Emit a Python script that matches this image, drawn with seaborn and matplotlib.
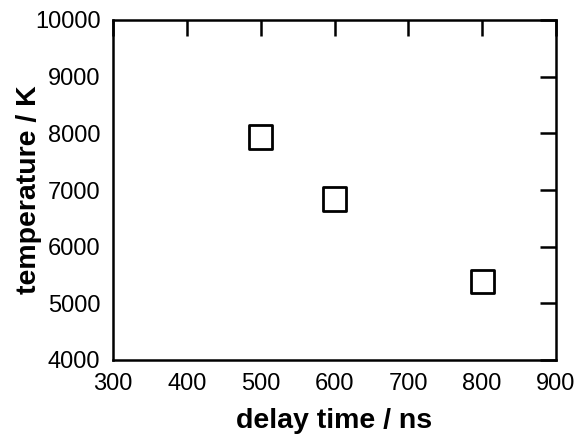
import matplotlib
matplotlib.use('Agg')
import matplotlib.pyplot as plt
import seaborn as sns
import pandas as pd

# Daten
delay_time = [500, 600, 800]
temperature = [7935, 6840, 5380]

df = pd.DataFrame({'delay': delay_time, 'temp': temperature})

sns.set_style('white')
plt.rcParams['font.family'] = ['Liberation Sans', 'DejaVu Sans']
plt.rcParams['text.color'] = 'black'
plt.rcParams['axes.labelcolor'] = 'black'

fig = plt.figure(figsize=(5.81, 4.46), dpi=100)
ax = fig.add_axes([113 / 581, 1 - 360 / 446, (556 - 113) / 581, (360 - 20) / 446])

sns.scatterplot(data=df, x='delay', y='temp', ax=ax, marker='s', s=280,
                facecolor='none', edgecolor='black', linewidth=2, zorder=3)

ax.set_xlim(300, 900)
ax.set_ylim(4000, 10000)
ax.set_xticks(range(300, 901, 100))
ax.set_yticks(range(4000, 10001, 1000))
ax.tick_params(direction='in', length=11.5, width=1.8, top=True, right=True,
               labelsize=17, pad=9, colors='black')
for sp in ax.spines.values():
    sp.set_linewidth(1.8)
    sp.set_color('black')

ax.set_xlabel('delay time / ns', fontsize=20.5, fontweight='bold', labelpad=10)
ax.set_ylabel('temperature / K', fontsize=20.5, fontweight='bold', labelpad=-5)

fig.savefig('out.png', dpi=100)
